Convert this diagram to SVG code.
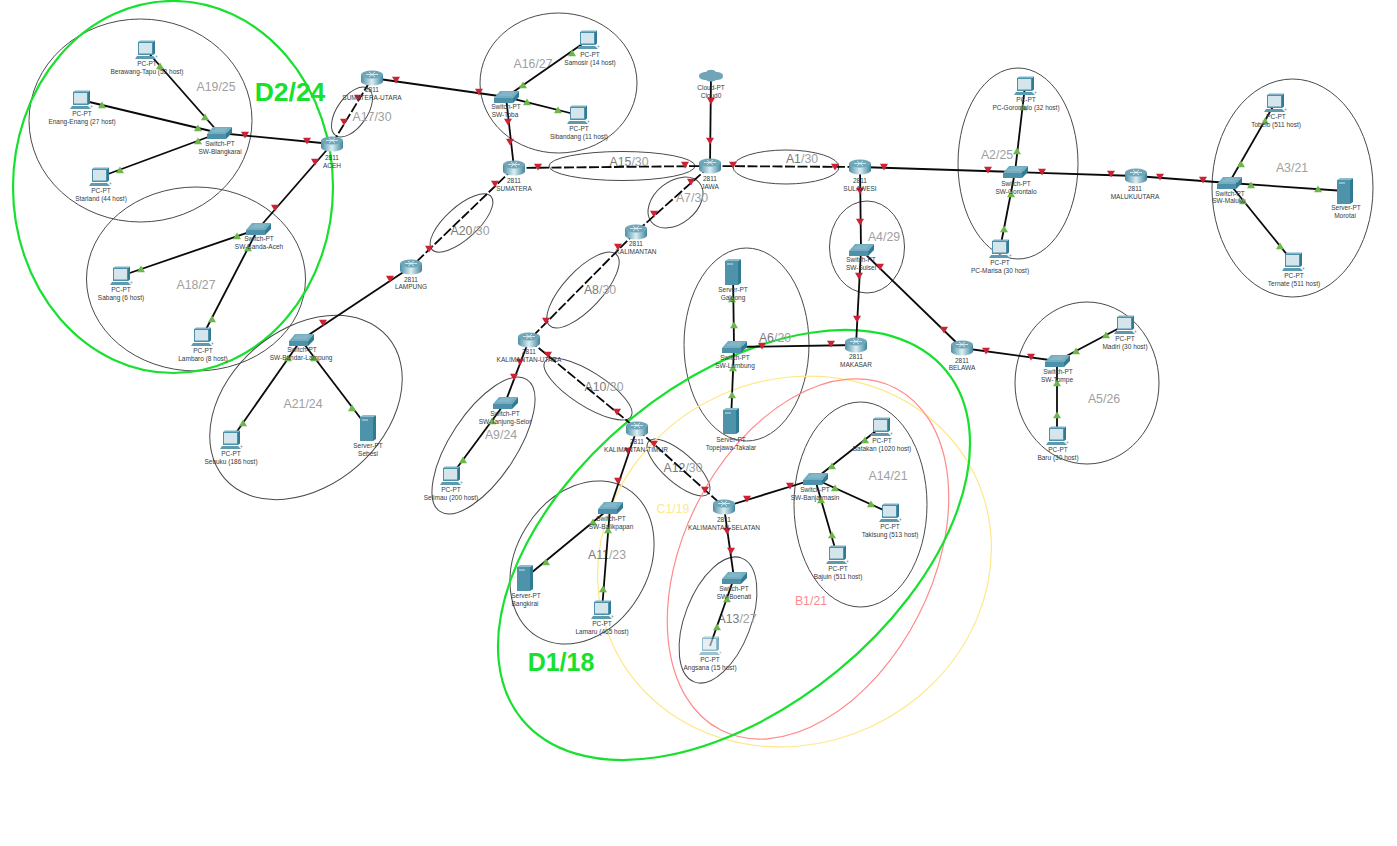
<svg xmlns="http://www.w3.org/2000/svg" width="1397" height="846" viewBox="0 0 1397 846">
<style>
text{font-family:"Liberation Sans",Arial,sans-serif}
.l{font-size:6.5px;fill:#333b42;text-anchor:middle}
.n{font-size:12.3px;fill:#a0a0a0;text-anchor:middle}
.k{fill:#7a7a7a}
.big{font-size:25px;font-weight:bold;fill:#18e02e;text-anchor:middle}
.e{fill:none;stroke:#4a4a4a;stroke-width:1}
.s{stroke:#0a0a0a;stroke-width:1.8;fill:none}
.d{stroke:#0a0a0a;stroke-width:1.8;fill:none;stroke-dasharray:10 2.5}
</style>
<defs>
<linearGradient id="rg" x1="0" x2="1" y1="0" y2="0"><stop offset="0" stop-color="#4d8fa6"/><stop offset=".5" stop-color="#dcEEf3"/><stop offset="1" stop-color="#3f859d"/></linearGradient>
<g id="router"><path d="M-11,-3.5v7a11,4 0 0 0 22,0v-7z" fill="url(#rg)"/><ellipse cy="-3.5" rx="11" ry="4" fill="#6fa7b9"/><path d="M-6,-3.5h12M-3,-6l6,5M3,-6l-6,5" stroke="#e6f3f6" stroke-width=".8" fill="none"/></g>
<g id="switch"><path d="M-12,1L-6,-6H13L7,1z" fill="#74adbf"/><path d="M-12,1H7V6H-12z" fill="#4d90a9"/><path d="M7,1L13,-6V0L7,6z" fill="#2f7b94"/><path d="M-7,-2H6M-4,-4H8" stroke="#a9d0db" stroke-width=".6"/></g>
<g id="pc"><path d="M-8,-8H7V5H-8z" fill="#4d90a9"/><path d="M7,-8L9,-9.5V3.5L7,5z" fill="#2f7b94"/><path d="M-8,-8L-6,-9.5H9L7,-8z" fill="#7fb3c3"/><path d="M-7,-7H6V3.5H-7z" fill="#d4e6ec"/><path d="M-9,6H7L10,9H-11z" fill="#5c9ab0"/><circle cx="10.5" cy="6.5" r="1" fill="#7fb3c3"/></g>
<g id="server"><path d="M-8,-11H5V13H-8z" fill="#4f93ab"/><path d="M5,-11L8,-13V11L5,13z" fill="#2f7b94"/><path d="M-8,-11L-5,-13H8L5,-11z" fill="#8abccb"/><path d="M-6,-9H0V-7H-6z" fill="#8abccb"/></g>
<g id="cloud"><path d="M-12,0c0,-3 4,-4 7,-4c2,-3 8,-3 10,0c4,0 7,1 7,4c0,3 -3,4 -7,4c-3,2 -8,2 -10,0c-3,0 -7,-1 -7,-4z" fill="#6fa5b7"/></g>
<path id="r" d="M-4,-3.2H4L0,3.5z" fill="#cc2233"/>
<path id="g" d="M-4,3.2H4L0,-3.5z" fill="#6cb64a"/>
</defs>
<rect width="1397" height="846" fill="#fff"/>
<g id="areas">
<ellipse class="e" cx="140.5" cy="120.5" rx="111.5" ry="101.5"/>
<ellipse class="e" cx="196" cy="279" rx="109.5" ry="92"/>
<ellipse cx="173" cy="187" rx="160" ry="186" fill="none" stroke="#18e02e" stroke-width="2.2"/>
<ellipse class="e" transform="rotate(-55 352 112)" cx="352" cy="112" rx="28.6" ry="15"/>
<ellipse class="e" cx="558.5" cy="83" rx="78.5" ry="70"/>
<ellipse class="e" cx="622" cy="166" rx="73" ry="14.5"/>
<ellipse class="e" transform="rotate(-42 461.5 223)" cx="461.5" cy="223" rx="39.7" ry="16"/>
<ellipse class="e" transform="rotate(-39 675.5 202.5)" cx="675.5" cy="202.5" rx="31" ry="21"/>
<ellipse class="e" transform="rotate(-47 583 290)" cx="583" cy="290" rx="48.8" ry="19"/>
<ellipse class="e" transform="rotate(-56.6 483.5 445.5)" cx="483.5" cy="445.5" rx="79" ry="33"/>
<ellipse class="e" transform="rotate(32.5 588 389)" cx="588" cy="389" rx="51" ry="17"/>
<ellipse class="e" transform="rotate(-41 306 407.5)" cx="306" cy="407.5" rx="108" ry="78"/>
<ellipse class="e" transform="rotate(-59 582 562.5)" cx="582" cy="562.5" rx="86.5" ry="66"/>
<ellipse class="e" transform="rotate(41 678.5 467.5)" cx="678.5" cy="467.5" rx="39.7" ry="15"/>
<ellipse class="e" transform="rotate(-69 718 620)" cx="718" cy="620" rx="66.3" ry="33"/>
<ellipse class="e" cx="860.5" cy="504.5" rx="66.5" ry="102.5"/>
<ellipse class="e" cx="746.5" cy="344.5" rx="62.5" ry="96.5"/>
<ellipse class="e" cx="867" cy="247" rx="37.5" ry="46"/>
<ellipse class="e" cx="786" cy="167" rx="53" ry="17"/>
<ellipse class="e" cx="1018" cy="163.5" rx="60" ry="95.5"/>
<ellipse class="e" cx="1292.5" cy="188" rx="80.5" ry="109"/>
<ellipse class="e" cx="1087" cy="383" rx="72" ry="81"/>
<ellipse transform="rotate(-25 794.5 561.5)" cx="794.5" cy="561.5" rx="200" ry="182" fill="none" stroke="#ffe88a" stroke-width="1.2"/>
<ellipse transform="rotate(-63 808 559)" cx="808" cy="559" rx="192" ry="124" fill="none" stroke="#ff8a8a" stroke-width="1.2"/>
<ellipse transform="rotate(-39.4 734 545)" cx="734" cy="545" rx="274.5" ry="163" fill="none" stroke="#18e02e" stroke-width="2.2"/>
<text class="n" x="216" y="91">A19/25</text>
<text class="n" x="196" y="289">A18/27</text>
<text class="n" x="372" y="121">A17/30</text>
<text class="n" x="533" y="68">A16/27</text>
<text class="n" x="629" y="166"><tspan class="k">A15</tspan>/30</text>
<text class="n" x="470" y="235"><tspan class="k">A20</tspan>/30</text>
<text class="n" x="692" y="202">A7/30</text>
<text class="n" x="600" y="294"><tspan class="k">A8</tspan>/30</text>
<text class="n" x="802" y="163"><tspan class="k">A1</tspan>/30</text>
<text class="n" x="884" y="241">A4/29</text>
<text class="n" x="997" y="159">A2/25</text>
<text class="n" x="1292" y="172">A3/21</text>
<text class="n" x="1104" y="403">A5/26</text>
<text class="n" x="775" y="342"><tspan class="k">A6</tspan>/20</text>
<text class="n" x="888" y="480">A14/21</text>
<text class="n" x="303" y="408">A21/24</text>
<text class="n" x="501" y="439">A9/24</text>
<text class="n" x="604" y="391"><tspan class="k">A10</tspan>/30</text>
<text class="n" x="607" y="559"><tspan class="k">A11</tspan>/23</text>
<text class="n" x="683" y="472"><tspan class="k">A12</tspan>/30</text>
<text class="n" x="737" y="623"><tspan class="k">A13</tspan>/27</text>
<text class="n" x="673" y="513" style="fill:#ffe88a">C1/19</text>
<text class="n" x="811" y="605" style="fill:#ff8a8a">B1/21</text>
<text class="big" x="290" y="101" style="font-size:26.5px">D2/24</text>
<text class="big" x="561" y="671">D1/18</text>
</g>
<g id="connectors">
<line class="s" x1="146" y1="50" x2="219" y2="133"/>
<line class="s" x1="81" y1="100" x2="219" y2="133"/>
<line class="s" x1="100" y1="177" x2="219" y2="133"/>
<line class="s" x1="219" y1="133" x2="332" y2="144"/>
<line class="s" x1="332" y1="144" x2="258" y2="229"/>
<line class="s" x1="121" y1="276" x2="258" y2="229"/>
<line class="s" x1="202" y1="337" x2="258" y2="229"/>
<line class="d" x1="332" y1="144" x2="372" y2="78"/>
<line class="s" x1="372" y1="78" x2="506" y2="97"/>
<line class="s" x1="506" y1="97" x2="588" y2="40"/>
<line class="s" x1="506" y1="97" x2="578" y2="115"/>
<line class="s" x1="506" y1="97" x2="514" y2="168"/>
<line class="d" x1="514" y1="168" x2="710" y2="166"/>
<line class="d" x1="514" y1="168" x2="411" y2="267"/>
<line class="s" x1="411" y1="267" x2="301" y2="340"/>
<line class="s" x1="301" y1="340" x2="231" y2="440"/>
<line class="s" x1="301" y1="340" x2="368" y2="428"/>
<line class="d" x1="710" y1="166" x2="860" y2="167"/>
<line class="s" x1="711" y1="76" x2="710" y2="166"/>
<line class="d" x1="710" y1="166" x2="636" y2="232"/>
<line class="d" x1="636" y1="232" x2="529" y2="340"/>
<line class="s" x1="529" y1="340" x2="505" y2="403"/>
<line class="s" x1="505" y1="403" x2="451" y2="476"/>
<line class="d" x1="529" y1="340" x2="637" y2="429"/>
<line class="s" x1="637" y1="429" x2="610" y2="508"/>
<line class="s" x1="610" y1="508" x2="525" y2="578"/>
<line class="s" x1="610" y1="508" x2="602" y2="610"/>
<line class="d" x1="637" y1="429" x2="724" y2="507"/>
<line class="s" x1="724" y1="507" x2="815" y2="479"/>
<line class="s" x1="724" y1="507" x2="734" y2="578"/>
<line class="s" x1="734" y1="578" x2="710" y2="646"/>
<line class="s" x1="815" y1="479" x2="881" y2="427"/>
<line class="s" x1="815" y1="479" x2="890" y2="513"/>
<line class="s" x1="815" y1="479" x2="837" y2="555"/>
<line class="s" x1="860" y1="167" x2="861" y2="250"/>
<line class="s" x1="861" y1="250" x2="856" y2="345"/>
<line class="s" x1="861" y1="250" x2="962" y2="348"/>
<line class="s" x1="856" y1="345" x2="734" y2="347"/>
<line class="s" x1="734" y1="347" x2="733" y2="272"/>
<line class="s" x1="734" y1="347" x2="731" y2="421"/>
<line class="s" x1="860" y1="167" x2="1015" y2="172"/>
<line class="s" x1="1015" y1="172" x2="1025" y2="86"/>
<line class="s" x1="1015" y1="172" x2="1000" y2="249"/>
<line class="s" x1="1015" y1="172" x2="1136" y2="176"/>
<line class="s" x1="1136" y1="176" x2="1229" y2="183"/>
<line class="s" x1="1229" y1="183" x2="1275" y2="103"/>
<line class="s" x1="1229" y1="183" x2="1345" y2="191"/>
<line class="s" x1="1229" y1="183" x2="1293" y2="262"/>
<line class="s" x1="962" y1="348" x2="1057" y2="361"/>
<line class="s" x1="1057" y1="361" x2="1125" y2="325"/>
<line class="s" x1="1057" y1="361" x2="1057" y2="436"/>
<use href="#g" x="160" y="66"/><use href="#g" x="205" y="117"/><use href="#g" x="102" y="105"/><use href="#g" x="198" y="128"/><use href="#g" x="120" y="170"/><use href="#g" x="198" y="141"/>
<use href="#r" x="245" y="135"/><use href="#r" x="307" y="141"/><use href="#r" x="315" y="162"/><use href="#r" x="275" y="208"/>
<use href="#g" x="141" y="269"/><use href="#g" x="237" y="236"/><use href="#g" x="212" y="319"/><use href="#g" x="248" y="248"/>
<use href="#r" x="344" y="122"/><use href="#r" x="358" y="98"/><use href="#r" x="396" y="80"/><use href="#r" x="479" y="92"/>
<use href="#g" x="523" y="85"/><use href="#g" x="572" y="53"/><use href="#g" x="527" y="102"/><use href="#g" x="558" y="110"/>
<use href="#r" x="508" y="122"/><use href="#r" x="510" y="142"/><use href="#r" x="538" y="167"/><use href="#r" x="685" y="165"/>
<use href="#r" x="495" y="184"/><use href="#r" x="429" y="249"/><use href="#r" x="390" y="279"/><use href="#r" x="323" y="323"/>
<use href="#g" x="288" y="358"/><use href="#g" x="243" y="423"/><use href="#g" x="314" y="358"/><use href="#g" x="352" y="408"/>
<use href="#r" x="733" y="165"/><use href="#r" x="835" y="167"/><use href="#r" x="711" y="101"/><use href="#r" x="710" y="141"/>
<use href="#r" x="691" y="182"/><use href="#r" x="654" y="214"/><use href="#r" x="618" y="247"/><use href="#r" x="546" y="321"/>
<use href="#r" x="520" y="362"/><use href="#r" x="514" y="377"/><use href="#g" x="492" y="421"/><use href="#g" x="463" y="460"/>
<use href="#r" x="548" y="355"/><use href="#r" x="617" y="412"/><use href="#r" x="628" y="451"/><use href="#r" x="618" y="481"/>
<use href="#g" x="593" y="522"/><use href="#g" x="546" y="562"/><use href="#g" x="608" y="530"/><use href="#g" x="603" y="589"/>
<use href="#r" x="654" y="444"/><use href="#r" x="705" y="490"/><use href="#r" x="747" y="499"/><use href="#r" x="790" y="486"/>
<use href="#r" x="727" y="531"/><use href="#r" x="731" y="551"/><use href="#g" x="727" y="599"/><use href="#g" x="717" y="627"/>
<use href="#g" x="832" y="466"/><use href="#g" x="865" y="440"/><use href="#g" x="835" y="488"/><use href="#g" x="871" y="504"/><use href="#g" x="821" y="500"/><use href="#g" x="832" y="535"/>
<use href="#r" x="860" y="191"/><use href="#r" x="860" y="222"/><use href="#r" x="859" y="276"/><use href="#r" x="857" y="319"/><use href="#r" x="880" y="267"/><use href="#r" x="944" y="330"/>
<use href="#r" x="831" y="344"/><use href="#r" x="762" y="346"/><use href="#g" x="734" y="325"/><use href="#g" x="732" y="299"/><use href="#g" x="733" y="368"/><use href="#g" x="732" y="395"/>
<use href="#r" x="884" y="167"/><use href="#r" x="988" y="170"/><use href="#g" x="1017" y="151"/><use href="#g" x="1023" y="107"/><use href="#g" x="1011" y="194"/><use href="#g" x="1004" y="229"/>
<use href="#r" x="1042" y="172"/><use href="#r" x="1111" y="174"/><use href="#r" x="1160" y="177"/><use href="#r" x="1203" y="180"/>
<use href="#g" x="1241" y="164"/><use href="#g" x="1265" y="121"/><use href="#g" x="1251" y="185"/><use href="#g" x="1318" y="189"/><use href="#g" x="1243" y="201"/><use href="#g" x="1280" y="246"/>
<use href="#r" x="986" y="351"/><use href="#r" x="1031" y="357"/><use href="#g" x="1076" y="351"/><use href="#g" x="1106" y="335"/><use href="#g" x="1057" y="383"/><use href="#g" x="1057" y="415"/>
</g>
<g id="nodes">
<g id="n-blangkarai"><use href="#switch" x="219" y="133"/><text class="l" x="220" y="145.5">Switch-PT</text><text class="l" x="220" y="153.5">SW-Blangkarai</text></g>
<g id="n-berawang"><use href="#pc" x="146" y="50"/><text class="l" x="147" y="65.5">PC-PT</text><text class="l" x="147" y="73.5">Berawang-Tapu (53 host)</text></g>
<g id="n-enang"><use href="#pc" x="81" y="100"/><text class="l" x="82" y="115.5">PC-PT</text><text class="l" x="82" y="123.5">Enang-Enang (27 host)</text></g>
<g id="n-starland"><use href="#pc" x="100" y="177"/><text class="l" x="101" y="192.5">PC-PT</text><text class="l" x="101" y="200.5">Starland (44 host)</text></g>
<g id="n-aceh"><use href="#router" x="332" y="144"/><text class="l" x="332" y="159.5">2811</text><text class="l" x="332" y="167.5">ACEH</text></g>
<g id="n-bandaaceh"><use href="#switch" x="258" y="229"/><text class="l" x="259" y="240.5">Switch-PT</text><text class="l" x="259" y="248.5">SW-Banda-Aceh</text></g>
<g id="n-sabang"><use href="#pc" x="121" y="276"/><text class="l" x="121" y="291.5">PC-PT</text><text class="l" x="121" y="299.5">Sabang (6 host)</text></g>
<g id="n-lambaro"><use href="#pc" x="202" y="337"/><text class="l" x="203" y="352.5">PC-PT</text><text class="l" x="203" y="360.5">Lambaro (8 host)</text></g>
<g id="n-sumut"><use href="#router" x="372" y="78"/><text class="l" x="372" y="91.5">2811</text><text class="l" x="372" y="100">SUMATERA-UTARA</text></g>
<g id="n-toba"><use href="#switch" x="506" y="97"/><text class="l" x="506" y="108.5">Switch-PT</text><text class="l" x="505" y="116.5">SW-Toba</text></g>
<g id="n-samosir"><use href="#pc" x="588" y="40"/><text class="l" x="590" y="56.5">PC-PT</text><text class="l" x="590" y="64.5">Samosir (14 host)</text></g>
<g id="n-sibandang"><use href="#pc" x="578" y="115"/><text class="l" x="579" y="130.5">PC-PT</text><text class="l" x="579" y="138.5">Sibandang (11 host)</text></g>
<g id="n-sumatera"><use href="#router" x="514" y="168"/><text class="l" x="514" y="182.5">2811</text><text class="l" x="514" y="190.5">SUMATERA</text></g>
<g id="n-lampung"><use href="#router" x="411" y="267"/><text class="l" x="411" y="281.5">2811</text><text class="l" x="411" y="289">LAMPUNG</text></g>
<g id="n-kalimantan"><use href="#router" x="636" y="232"/><text class="l" x="636" y="245.5">2811</text><text class="l" x="636" y="253.5">KALIMANTAN</text></g>
<g id="n-jawa"><use href="#router" x="710" y="166"/><text class="l" x="710" y="180.5">2811</text><text class="l" x="710" y="188.5">JAWA</text></g>
<g id="n-cloud"><use href="#cloud" x="711" y="76"/><text class="l" x="711" y="89.5">Cloud-PT</text><text class="l" x="711" y="97.5">Cloud0</text></g>
<g id="n-sulawesi"><use href="#router" x="860" y="167"/><text class="l" x="860" y="182.5">2811</text><text class="l" x="860" y="190.5">SULAWESI</text></g>
<g id="n-sulsel"><use href="#switch" x="861" y="250"/><text class="l" x="861" y="261.5">Switch-PT</text><text class="l" x="861" y="269.5">SW-Sulsel</text></g>
<g id="n-makasar"><use href="#router" x="856" y="345"/><text class="l" x="856" y="358.5">2811</text><text class="l" x="856" y="366.5">MAKASAR</text></g>
<g id="n-lumbung"><use href="#switch" x="734" y="347"/><text class="l" x="735" y="359.5">Switch-PT</text><text class="l" x="735" y="367.5">SW-Lumbung</text></g>
<g id="n-galgong"><use href="#server" x="733" y="272"/><text class="l" x="733" y="291.5">Server-PT</text><text class="l" x="733" y="299.5">Galgong</text></g>
<g id="n-topejawa"><use href="#server" x="731" y="421"/><text class="l" x="731" y="441.5">Server-PT</text><text class="l" x="731" y="449.5">Topejawa-Takalar</text></g>
<g id="n-belawa"><use href="#router" x="962" y="348"/><text class="l" x="962" y="362.5">2811</text><text class="l" x="962" y="369.5">BELAWA</text></g>
<g id="n-gorontalo"><use href="#switch" x="1015" y="172"/><text class="l" x="1016" y="185.5">Switch-PT</text><text class="l" x="1016" y="193.5">SW-Gorontalo</text></g>
<g id="n-pcgorontalo"><use href="#pc" x="1025" y="86"/><text class="l" x="1026" y="101.5">PC-PT</text><text class="l" x="1026" y="109.5">PC-Gorontalo (32 host)</text></g>
<g id="n-marisa"><use href="#pc" x="1000" y="249"/><text class="l" x="1000" y="264.5">PC-PT</text><text class="l" x="1000" y="272.5">PC-Marisa (30 host)</text></g>
<g id="n-malukuutara"><use href="#router" x="1136" y="176"/><text class="l" x="1135" y="190.5">2811</text><text class="l" x="1135" y="198.5">MALUKUUTARA</text></g>
<g id="n-maluku"><use href="#switch" x="1229" y="183"/><text class="l" x="1230" y="195.5">Switch-PT</text><text class="l" x="1229" y="203">SW-Maluku</text></g>
<g id="n-tobelo"><use href="#pc" x="1275" y="103"/><text class="l" x="1276" y="118.5">PC-PT</text><text class="l" x="1276" y="126.5">Tobelo (511 host)</text></g>
<g id="n-morotai"><use href="#server" x="1345" y="191"/><text class="l" x="1346" y="209.5">Server-PT</text><text class="l" x="1345" y="217.5">Morotai</text></g>
<g id="n-ternate"><use href="#pc" x="1293" y="262"/><text class="l" x="1294" y="277.5">PC-PT</text><text class="l" x="1294" y="285.5">Ternate (511 host)</text></g>
<g id="n-tompe"><use href="#switch" x="1057" y="361"/><text class="l" x="1058" y="373.5">Switch-PT</text><text class="l" x="1057" y="381.5">SW-Tompe</text></g>
<g id="n-madiri"><use href="#pc" x="1125" y="325"/><text class="l" x="1125" y="340.5">PC-PT</text><text class="l" x="1125" y="348.5">Madiri  (30 host)</text></g>
<g id="n-baru"><use href="#pc" x="1057" y="436"/><text class="l" x="1058" y="451.5">PC-PT</text><text class="l" x="1058" y="459.5">Baru (30 host)</text></g>
<g id="n-bandarlampung"><use href="#switch" x="301" y="340"/><text class="l" x="302" y="352">Switch-PT</text><text class="l" x="301" y="360">SW-Bandar-Lampung</text></g>
<g id="n-sebuku"><use href="#pc" x="231" y="440"/><text class="l" x="231" y="455.5">PC-PT</text><text class="l" x="231" y="463.5">Sebuku (186 host)</text></g>
<g id="n-sebesi"><use href="#server" x="368" y="428"/><text class="l" x="368" y="447.5">Server-PT</text><text class="l" x="368" y="455.5">Sebesi</text></g>
<g id="n-kalimantanutara"><use href="#router" x="529" y="340"/><text class="l" x="529" y="353.5">2811</text><text class="l" x="529" y="361.5">KALIMANTAN-UTARA</text></g>
<g id="n-tanjungselor"><use href="#switch" x="505" y="403"/><text class="l" x="505" y="415.5">Switch-PT</text><text class="l" x="505" y="423.5">SW-Tanjung-Selor</text></g>
<g id="n-selimau"><use href="#pc" x="451" y="476"/><text class="l" x="451" y="491.5">PC-PT</text><text class="l" x="451" y="499.5">Selimau (200 host)</text></g>
<g id="n-kalimantantimur"><use href="#router" x="637" y="429"/><text class="l" x="637" y="443.5">2811</text><text class="l" x="636" y="451.5">KALIMANTAN-TIMUR</text></g>
<g id="n-balikpapan"><use href="#switch" x="610" y="508"/><text class="l" x="611" y="520.5">Switch-PT</text><text class="l" x="611" y="528.5">SW-Balikpapan</text></g>
<g id="n-bangkirai"><use href="#server" x="525" y="578"/><text class="l" x="526" y="597.5">Server-PT</text><text class="l" x="525" y="605.5">Bangkirai</text></g>
<g id="n-lamaru"><use href="#pc" x="602" y="610"/><text class="l" x="602" y="625.5">PC-PT</text><text class="l" x="602" y="633.5">Lamaru (465 host)</text></g>
<g id="n-kalimantanselatan"><use href="#router" x="724" y="507"/><text class="l" x="724" y="521.5">2811</text><text class="l" x="724" y="529.5">KALIMANTAN-SELATAN</text></g>
<g id="n-boenati"><use href="#switch" x="734" y="578"/><text class="l" x="734" y="590.5">Switch-PT</text><text class="l" x="734" y="599">SW-Boenati</text></g>
<g id="n-angsana"><use href="#pc" x="710" y="646" opacity=".6"/><text class="l" x="710" y="661.5">PC-PT</text><text class="l" x="710" y="669.5">Angsana (15 host)</text></g>
<g id="n-banjarmasin"><use href="#switch" x="815" y="479"/><text class="l" x="815" y="491.5">Switch-PT</text><text class="l" x="815" y="499.5">SW-Banjarmasin</text></g>
<g id="n-batakan"><use href="#pc" x="881" y="427"/><text class="l" x="882" y="442.5">PC-PT</text><text class="l" x="882" y="450.5">Batakan (1020 host)</text></g>
<g id="n-takisung"><use href="#pc" x="890" y="513"/><text class="l" x="890" y="528.5">PC-PT</text><text class="l" x="890" y="536.5">Takisung (513 host)</text></g>
<g id="n-bajuin"><use href="#pc" x="837" y="555"/><text class="l" x="838" y="570.5">PC-PT</text><text class="l" x="838" y="578.5">Bajuin (511 host)</text></g>
</g>
</svg>
